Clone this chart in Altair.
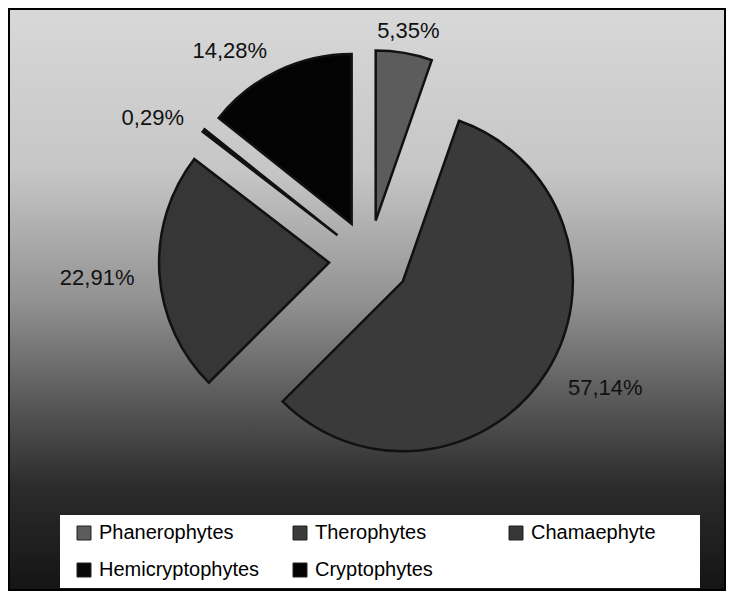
import altair as alt
import pandas as pd

# ---- data ----
categories = ["Phanerophytes", "Therophytes", "Chamaephyte", "Hemicryptophytes", "Cryptophytes"]
values = [5.35, 57.14, 22.91, 0.29, 14.28]
labels = ["5,35%", "57,14%", "22,91%", "0,29%", "14,28%"]
colors = ["#5c5c5c", "#3a3a3a", "#363636", "#080808", "#030303"]

df = pd.DataFrame({
    "cat": categories,
    "value": values,
    "label": labels,
    "order": list(range(len(categories))),
})

# ---- layout constants (pixels, view coordinates) ----
W, H = 718, 583
CX, CY = 361, 252
EXPLODE = 40
RADIUS = 170
LABEL_R = 195
FONT = "Liberation Sans"

base = (
    alt.Chart(df)
    .transform_window(cum="sum(value)", sort=[alt.SortField("order")], frame=[None, 0])
    .transform_joinaggregate(total="sum(value)")
    .transform_calculate(t0="2*PI*(datum.cum - datum.value)/datum.total")
    .transform_calculate(t1="2*PI*datum.cum/datum.total")
    .transform_calculate(mid="(datum.t0 + datum.t1)/2")
    .transform_calculate(px=f"{CX} + {EXPLODE}*sin(datum.mid)")
    .transform_calculate(py=f"{CY} - {EXPLODE}*cos(datum.mid)")
    .transform_calculate(lx=f"datum.px + {LABEL_R}*sin(datum.mid)")
    .transform_calculate(ly=f"datum.py - {LABEL_R}*cos(datum.mid) + 3")
    .transform_calculate(s="sin(datum.mid)")
)

one = pd.DataFrame({"k": [0]})

bg = alt.Chart(one).mark_rect(
    fill=alt.Gradient(
        gradient="linear",
        x1=0, x2=0, y1=0, y2=1,
        stops=[
            alt.GradientStop(color="#d8d8d8", offset=0),
            alt.GradientStop(color="#c6c6c6", offset=0.28),
            alt.GradientStop(color="#929292", offset=0.50),
            alt.GradientStop(color="#5a5a5a", offset=0.67),
            alt.GradientStop(color="#2c2c2c", offset=0.82),
            alt.GradientStop(color="#141414", offset=1),
        ],
    )
).encode(x=alt.value(0), x2=alt.value(W), y=alt.value(0), y2=alt.value(H))

legend_box = alt.Chart(one).mark_rect(fill="white").encode(
    x=alt.value(52), x2=alt.value(692), y=alt.value(507), y2=alt.value(580)
)

arcs = base.mark_arc(outerRadius=RADIUS, stroke="#111111", strokeWidth=2.5).encode(
    x=alt.X("px:Q", scale=None, axis=None),
    y=alt.Y("py:Q", scale=None, axis=None),
    theta=alt.Theta("t0:Q", scale=None, stack=False),
    theta2="t1:Q",
    color=alt.Color(
        "cat:N",
        scale=alt.Scale(domain=categories, range=colors),
        sort=categories,
        legend=alt.Legend(
            title=None,
            orient="none",
            legendX=66,
            legendY=515,
            direction="horizontal",
            columns=3,
            gridAlign="all",
            columnPadding=30,
            rowPadding=17,
            symbolType="square",
            symbolSize=196,
            symbolStrokeColor="#222222",
            symbolStrokeWidth=1,
            symbolOpacity=1,
            labelFontSize=20,
            labelFont=FONT,
            labelColor="black",
            labelOffset=5,
            labelLimit=0,
            padding=0,
        ),
    ),
)

def text_layer(cond, align):
    return base.transform_filter(cond).mark_text(
        align=align, baseline="middle", fontSize=22, font=FONT, color="#111111"
    ).encode(
        x=alt.X("lx:Q", scale=None, axis=None),
        y=alt.Y("ly:Q", scale=None, axis=None),
        text="label:N",
    )

lab_r = text_layer("datum.s < -0.3", "right")
lab_l = text_layer("datum.s > 0.3", "left")
lab_c = text_layer("abs(datum.s) <= 0.3", "center")

frame = alt.Chart(one).mark_rect(fillOpacity=0, stroke="black", strokeWidth=2).encode(
    x=alt.value(1), x2=alt.value(W - 1), y=alt.value(1), y2=alt.value(H - 1)
)

chart = (
    alt.layer(bg, legend_box, arcs, lab_r, lab_l, lab_c, frame)
    .properties(width=W, height=H, padding=0, autosize="none")
    .configure_view(stroke=None)
)

chart.save("out.html", embed_options={"renderer": "svg", "actions": False})
